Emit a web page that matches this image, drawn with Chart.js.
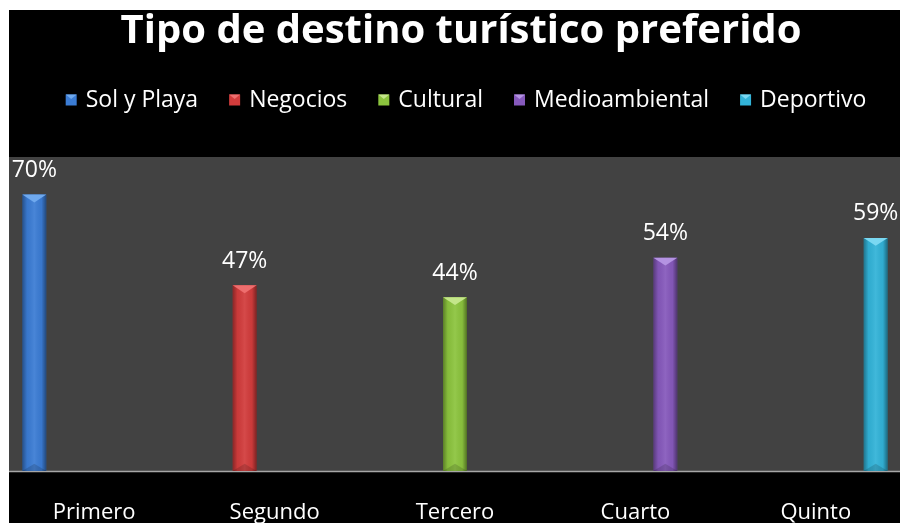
<!DOCTYPE html>
<html><head><meta charset="utf-8">
<script src="https://cdn.jsdelivr.net/npm/chart.js@4/dist/chart.umd.min.js"></script>
<style>
html,body{margin:0;padding:0;background:#fff;overflow:hidden;width:900px;height:523px}
#c{position:absolute;left:0;top:0}
</style></head>
<body><canvas id="c" width="910" height="523"></canvas>
<script>
const chartTitle = 'Tipo de destino turístico preferido';
const categories = ['Primero', 'Segundo', 'Tercero', 'Cuarto', 'Quinto'];
const seriesNames = ['Sol y Playa', 'Negocios', 'Cultural', 'Medioambiental', 'Deportivo'];
const solYPlaya      = [70, null, null, null, null];
const negocios       = [null, 47, null, null, null];
const cultural       = [null, null, 44, null, null];
const medioambiental = [null, null, null, 54, null];
const deportivo      = [null, null, null, null, 59];
const seriesValues = [solYPlaya, negocios, cultural, medioambiental, deportivo];
const seriesColors = ['#3B7CD4', '#D23C3C', '#8CC43E', '#8659BC', '#32B3D8'];
const seriesLight  = ['#6FA9EE', '#EE6E6E', '#C4E68A', '#B493E2', '#7AD8F2'];
const yMin = 0, yMax = 80;

const FONT = '"Open Sans", "Noto Sans", sans-serif';

const decor = {
  id: 'decor',
  beforeDraw(chart) {
    const ctx = chart.ctx, W = chart.width, H = chart.height;
    const ca = chart.chartArea;
    ctx.save();
    ctx.fillStyle = '#ffffff'; ctx.fillRect(0, 0, W, H);
    ctx.fillStyle = '#000000'; ctx.fillRect(9, 10, W - 9, H - 10);
    ctx.fillStyle = '#424242'; ctx.fillRect(9, 157, W - 9, ca.bottom - 157);
    ctx.strokeStyle = '#a6a6a6'; ctx.lineWidth = 1.5;
    ctx.beginPath(); ctx.moveTo(9, ca.bottom + 0.5); ctx.lineTo(W, ca.bottom + 0.5); ctx.stroke();
    ctx.restore();
  },
  afterDatasetsDraw(chart) {
    const ctx = chart.ctx;
    ctx.save();
    chart.data.datasets.forEach((ds, di) => {
      const meta = chart.getDatasetMeta(di);
      meta.data.forEach((el, i) => {
        const v = ds.data[i];
        if (v == null) return;
        const p = el.getProps(['x', 'y', 'width', 'base'], true);
        const l = p.x - p.width / 2, r = p.x + p.width / 2;
        const g = ctx.createLinearGradient(l, 0, r, 0);
        g.addColorStop(0, 'rgba(0,0,0,0.35)');
        g.addColorStop(0.2, 'rgba(0,0,0,0.04)');
        g.addColorStop(0.5, 'rgba(255,255,255,0.07)');
        g.addColorStop(0.8, 'rgba(0,0,0,0.04)');
        g.addColorStop(1, 'rgba(0,0,0,0.42)');
        ctx.fillStyle = g;
        ctx.fillRect(l, p.y, p.width, p.base - p.y);
        // bottom bevel
        ctx.fillStyle = 'rgba(0,0,0,0.15)';
        ctx.beginPath(); ctx.moveTo(l, p.base); ctx.lineTo(r, p.base); ctx.lineTo(p.x, p.base - p.width * 0.3); ctx.closePath(); ctx.fill();
        // top bevel
        ctx.fillStyle = seriesLight[di];
        ctx.beginPath(); ctx.moveTo(l, p.y); ctx.lineTo(r, p.y); ctx.lineTo(p.x, p.y + p.width * 0.33); ctx.closePath(); ctx.fill();
        // value label
        ctx.fillStyle = '#ffffff';
        ctx.font = '23px ' + FONT;
        ctx.textAlign = 'center'; ctx.textBaseline = 'alphabetic';
        ctx.fillText(v + '%', p.x, p.y - 17.5);
      });
    });
    ctx.restore();
  },
  afterDraw(chart) {
    const ctx = chart.ctx;
    ctx.save();
    // title
    ctx.fillStyle = '#ffffff';
    ctx.font = 'bold 40px ' + FONT;
    ctx.textAlign = 'center'; ctx.textBaseline = 'alphabetic';
    ctx.fillText(chartTitle, 461, 43);
    // legend
    ctx.font = '23px ' + FONT;
    ctx.textAlign = 'left';
    const box = 11, gapBT = 9, gapItem = 31;
    const widths = seriesNames.map(n => ctx.measureText(n).width);
    const total = widths.reduce((s, w) => s + box + gapBT + w, 0) + gapItem * (seriesNames.length - 1);
    let x = 466 - total / 2;
    seriesNames.forEach((n, i) => {
      ctx.fillStyle = seriesColors[i];
      ctx.fillRect(x, 94.5, box, box);
      ctx.fillStyle = seriesLight[i];
      ctx.beginPath(); ctx.moveTo(x, 94.5); ctx.lineTo(x + box, 94.5); ctx.lineTo(x + box / 2, 99); ctx.closePath(); ctx.fill();
      ctx.fillStyle = '#ffffff';
      ctx.fillText(n, x + box + gapBT, 107);
      x += box + gapBT + widths[i] + gapItem;
    });
    ctx.restore();
  }
};

function make() {
  new Chart(document.getElementById('c'), {
    type: 'bar',
    data: {
      labels: categories,
      datasets: seriesNames.map((n, i) => ({
        label: n,
        data: seriesValues[i],
        backgroundColor: seriesColors[i],
        borderWidth: 0,
        categoryPercentage: 0.83,
        barPercentage: 0.8
      }))
    },
    options: {
      responsive: false,
      devicePixelRatio: 1,
      animation: false,
      layout: { padding: { left: 4, right: 4, top: 155, bottom: -32 } },
      plugins: { legend: { display: false }, title: { display: false }, tooltip: { enabled: false } },
      scales: {
        x: {
          grid: { display: false, drawTicks: false },
          border: { display: false },
          ticks: { color: '#ffffff', padding: 31, font: { family: FONT, size: 22, lineHeight: 1 } }
        },
        y: { display: false, min: yMin, max: yMax }
      }
    },
    plugins: [decor]
  });
}
Promise.all([
  document.fonts.load('bold 40px "Open Sans"'),
  document.fonts.load('23px "Open Sans"')
]).then(make, make);
</script>
</body></html>
